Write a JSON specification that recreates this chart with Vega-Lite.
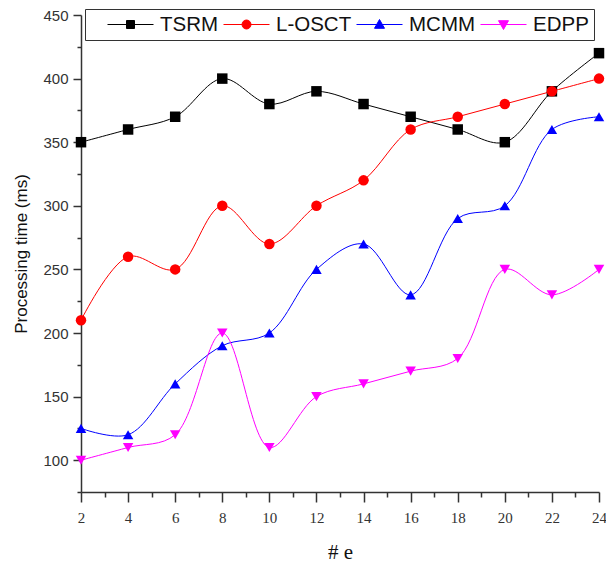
{
  "$schema": "https://vega.github.io/schema/vega-lite/v6.json",
  "width": 518,
  "height": 477,
  "autosize": {"type": "none"},
  "padding": {"left": 81, "top": 15, "right": 7, "bottom": 75},
  "background": "white",
  "config": {"view": {"stroke": null}},
  "data": {"values": [
    {"e": 2, "series": "TSRM", "time": 350},
    {"e": 4, "series": "TSRM", "time": 360},
    {"e": 6, "series": "TSRM", "time": 370},
    {"e": 8, "series": "TSRM", "time": 400},
    {"e": 10, "series": "TSRM", "time": 380},
    {"e": 12, "series": "TSRM", "time": 390},
    {"e": 14, "series": "TSRM", "time": 380},
    {"e": 16, "series": "TSRM", "time": 370},
    {"e": 18, "series": "TSRM", "time": 360},
    {"e": 20, "series": "TSRM", "time": 350},
    {"e": 22, "series": "TSRM", "time": 390},
    {"e": 24, "series": "TSRM", "time": 420},
    {"e": 2, "series": "L-OSCT", "time": 210},
    {"e": 4, "series": "L-OSCT", "time": 260},
    {"e": 6, "series": "L-OSCT", "time": 250},
    {"e": 8, "series": "L-OSCT", "time": 300},
    {"e": 10, "series": "L-OSCT", "time": 270},
    {"e": 12, "series": "L-OSCT", "time": 300},
    {"e": 14, "series": "L-OSCT", "time": 320},
    {"e": 16, "series": "L-OSCT", "time": 360},
    {"e": 18, "series": "L-OSCT", "time": 370},
    {"e": 20, "series": "L-OSCT", "time": 380},
    {"e": 22, "series": "L-OSCT", "time": 390},
    {"e": 24, "series": "L-OSCT", "time": 400},
    {"e": 2, "series": "MCMM", "time": 125},
    {"e": 4, "series": "MCMM", "time": 120},
    {"e": 6, "series": "MCMM", "time": 160},
    {"e": 8, "series": "MCMM", "time": 190},
    {"e": 10, "series": "MCMM", "time": 200},
    {"e": 12, "series": "MCMM", "time": 250},
    {"e": 14, "series": "MCMM", "time": 270},
    {"e": 16, "series": "MCMM", "time": 230},
    {"e": 18, "series": "MCMM", "time": 290},
    {"e": 20, "series": "MCMM", "time": 300},
    {"e": 22, "series": "MCMM", "time": 360},
    {"e": 24, "series": "MCMM", "time": 370},
    {"e": 2, "series": "EDPP", "time": 100},
    {"e": 4, "series": "EDPP", "time": 110},
    {"e": 6, "series": "EDPP", "time": 120},
    {"e": 8, "series": "EDPP", "time": 200},
    {"e": 10, "series": "EDPP", "time": 110},
    {"e": 12, "series": "EDPP", "time": 150},
    {"e": 14, "series": "EDPP", "time": 160},
    {"e": 16, "series": "EDPP", "time": 170},
    {"e": 18, "series": "EDPP", "time": 180},
    {"e": 20, "series": "EDPP", "time": 250},
    {"e": 22, "series": "EDPP", "time": 230},
    {"e": 24, "series": "EDPP", "time": 250}
  ]},
  "encoding": {
    "x": {
      "field": "e", "type": "quantitative",
      "scale": {"domain": [2, 24], "nice": false, "zero": false},
      "axis": {
        "values": [2,3,4,5,6,7,8,9,10,11,12,13,14,15,16,17,18,19,20,21,22,23,24],
        "labelExpr": "datum.value % 2 === 0 ? datum.label : ''",
        "tickSize": {"condition": {"test": "datum.value % 2 === 0", "value": 10}, "value": 5},
        "grid": false,
        "domainColor": "#333", "domainWidth": 1.5,
        "tickColor": "#333", "tickWidth": 1.5,
        "labelFont": "Liberation Serif, Times New Roman, serif", "labelFontSize": 15, "labelColor": "#333",
        "labelPadding": 8, "labelFlush": false,
        "title": "# e", "titleFont": "Liberation Serif, Times New Roman, serif", "titleFontSize": 21,
        "titleFontWeight": "normal", "titleColor": "#111", "titlePadding": 16
      }
    },
    "y": {
      "field": "time", "type": "quantitative",
      "scale": {"domain": [75, 450], "nice": false, "zero": false},
      "axis": {
        "values": [75,100,125,150,175,200,225,250,275,300,325,350,375,400,425,450],
        "labelExpr": "datum.value % 50 === 0 ? datum.label : ''",
        "tickSize": {"condition": {"test": "datum.value % 50 === 0", "value": 8}, "value": 4},
        "grid": false,
        "domainColor": "#333", "domainWidth": 1.5,
        "tickColor": "#333", "tickWidth": 1.5,
        "labelFont": "Liberation Sans", "labelFontSize": 15, "labelColor": "#333",
        "labelPadding": 5, "labelFlush": false,
        "title": "Processing time (ms)", "titleFont": "Liberation Sans", "titleFontSize": 17,
        "titleFontWeight": "normal", "titleColor": "#111", "titlePadding": 12
      }
    },
    "color": {
      "field": "series", "type": "nominal",
      "sort": ["TSRM", "L-OSCT", "MCMM", "EDPP"],
      "scale": {"domain": ["TSRM", "L-OSCT", "MCMM", "EDPP"], "range": ["#000000", "#ff0000", "#0000ff", "#ff00ff"]},
      "legend": {
        "orient": "none", "legendX": 4, "legendY": -6,
        "direction": "horizontal",
        "title": " ", "titleOrient": "left", "titleFontSize": 20, "titlePadding": 17,
        "symbolSize": 400, "symbolStrokeWidth": 1,
        "labelFont": "Liberation Sans", "labelFontSize": 20.5, "labelColor": "#111",
        "labelOffset": 32, "columnPadding": 2, "padding": 5,
        "strokeColor": "#333", "fillColor": "white",
        "encode": {
          "symbols": {
            "update": {
              "shape": {"signal": "datum.value === 'TSRM' ? 'M-1,0L3.6,0M0.9,-0.4L1.7,-0.4L1.7,0.4L0.9,0.4Z' : datum.value === 'L-OSCT' ? 'M-1,0L3.6,0M1.75,0A0.45,0.45 0 1,1 0.85,0A0.45,0.45 0 1,1 1.75,0Z' : datum.value === 'MCMM' ? 'M-1,0L3.6,0M1.3,-0.5L1.8,0.38L0.8,0.38Z' : 'M-1,0L3.6,0M1.3,0.5L1.8,-0.38L0.8,-0.38Z'"},
              "fill": {"signal": "scale('color', datum.value)"},
              "stroke": {"signal": "scale('color', datum.value)"},
              "fillOpacity": {"value": 1},
              "opacity": {"value": 1}
            }
          }
        }
      }
    }
  },
  "layer": [
    {
      "mark": {"type": "line", "interpolate": "catmull-rom", "strokeWidth": 1}
    },
    {
      "mark": {"type": "point", "filled": true, "opacity": 1, "size": 110},
      "encoding": {
        "shape": {
          "condition": [
            {"test": "datum.series === 'TSRM'", "value": "square"},
            {"test": "datum.series === 'L-OSCT'", "value": "circle"},
            {"test": "datum.series === 'MCMM'", "value": "triangle-up"}
          ],
          "value": "triangle-down"
        }
      }
    }
  ]
}
